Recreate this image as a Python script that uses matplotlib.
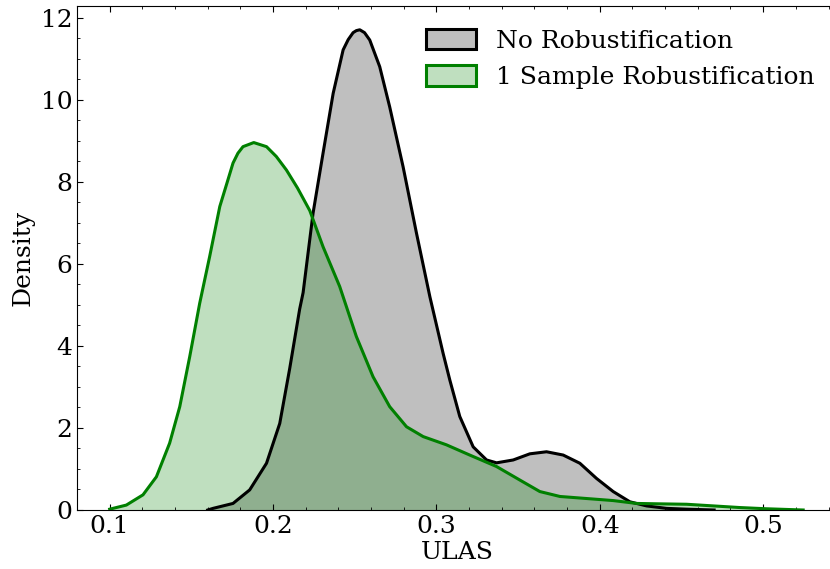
import matplotlib.pyplot as plt
from matplotlib.colors import to_rgba
from matplotlib.patches import Patch

plt.rcParams['font.family'] = ['DejaVu Serif']
plt.rcParams['font.size'] = 18

# density curves (ULAS vs density)
ulas_none = [0.1600, 0.1633, 0.1755, 0.1857, 0.1960, 0.2041, 0.2102, 0.2163, 0.2184,
             0.2245, 0.2306, 0.2368, 0.2429, 0.2460, 0.2490, 0.2510, 0.2531, 0.2560,
             0.2592, 0.2653, 0.2714, 0.2796, 0.2878, 0.2960, 0.3041, 0.3082, 0.3143,
             0.3225, 0.3307, 0.3368, 0.3470, 0.3572, 0.3674, 0.3776, 0.3878, 0.3980,
             0.4082, 0.4184, 0.4286, 0.4409, 0.4531, 0.4700]
dens_none = [0.00, 0.04, 0.16, 0.49, 1.14, 2.11, 3.45, 4.90, 5.30,
             7.24, 8.70, 10.16, 11.22, 11.47, 11.64, 11.69, 11.71, 11.64,
             11.46, 10.81, 9.83, 8.37, 6.75, 5.20, 3.82, 3.17, 2.28,
             1.54, 1.22, 1.15, 1.22, 1.37, 1.42, 1.34, 1.14, 0.77,
             0.45, 0.20, 0.10, 0.04, 0.02, 0.00]

ulas_one = [0.1000, 0.1102, 0.1204, 0.1286, 0.1367, 0.1429, 0.1490, 0.1551, 0.1612,
            0.1674, 0.1720, 0.1755, 0.1785, 0.1816, 0.1882, 0.1960, 0.2020, 0.2082,
            0.2150, 0.2225, 0.2306, 0.2408, 0.2510, 0.2612, 0.2714, 0.2817, 0.2919,
            0.3061, 0.3204, 0.3368, 0.3511, 0.3633, 0.3756, 0.3919, 0.4082, 0.4225,
            0.4368, 0.4531, 0.4694, 0.4857, 0.5020, 0.5245]
dens_one = [0.02, 0.12, 0.37, 0.81, 1.63, 2.52, 3.74, 5.04, 6.18,
            7.40, 8.00, 8.46, 8.70, 8.86, 8.96, 8.86, 8.62, 8.29,
            7.85, 7.30, 6.42, 5.45, 4.23, 3.25, 2.52, 2.03, 1.79,
            1.59, 1.34, 1.06, 0.73, 0.45, 0.33, 0.28, 0.23, 0.16,
            0.15, 0.14, 0.10, 0.06, 0.03, 0.00]

labels = ["No Robustification", "1 Sample Robustification"]
colors = ["black", "green"]

fig = plt.figure(figsize=(8.3, 5.69), dpi=100)
ax = fig.add_axes([77/830, 59/569, 760/830, 504/569])

for x, y, c in [(ulas_none, dens_none, colors[0]), (ulas_one, dens_one, colors[1])]:
    ax.fill_between(x, y, 0, color=c, alpha=0.25, linewidth=0)
    ax.plot(x, y, color=c, lw=2.2, solid_joinstyle='round')

ax.set_xlim(0.08, 0.5452)
ax.set_ylim(0, 12.29)
ax.set_xticks([0.1, 0.2, 0.3, 0.4, 0.5])
ax.set_yticks([0, 2, 4, 6, 8, 10, 12])
ax.xaxis.set_minor_locator(plt.MultipleLocator(0.02))
ax.yaxis.set_minor_locator(plt.MultipleLocator(0.5))
ax.tick_params(which='both', direction='in', top=True, right=False)
ax.tick_params(which='major', length=4)
ax.tick_params(which='minor', length=2)
ax.spines['right'].set_visible(False)
ax.set_xlabel("ULAS", labelpad=2)
ax.set_ylabel("Density", labelpad=4)

handles = [Patch(facecolor=to_rgba(c, 0.25), edgecolor=c, linewidth=2.2) for c in colors]
ax.legend(handles, labels, loc='upper right', frameon=False, handleheight=0.9)

fig.savefig("out.png", dpi=100)
